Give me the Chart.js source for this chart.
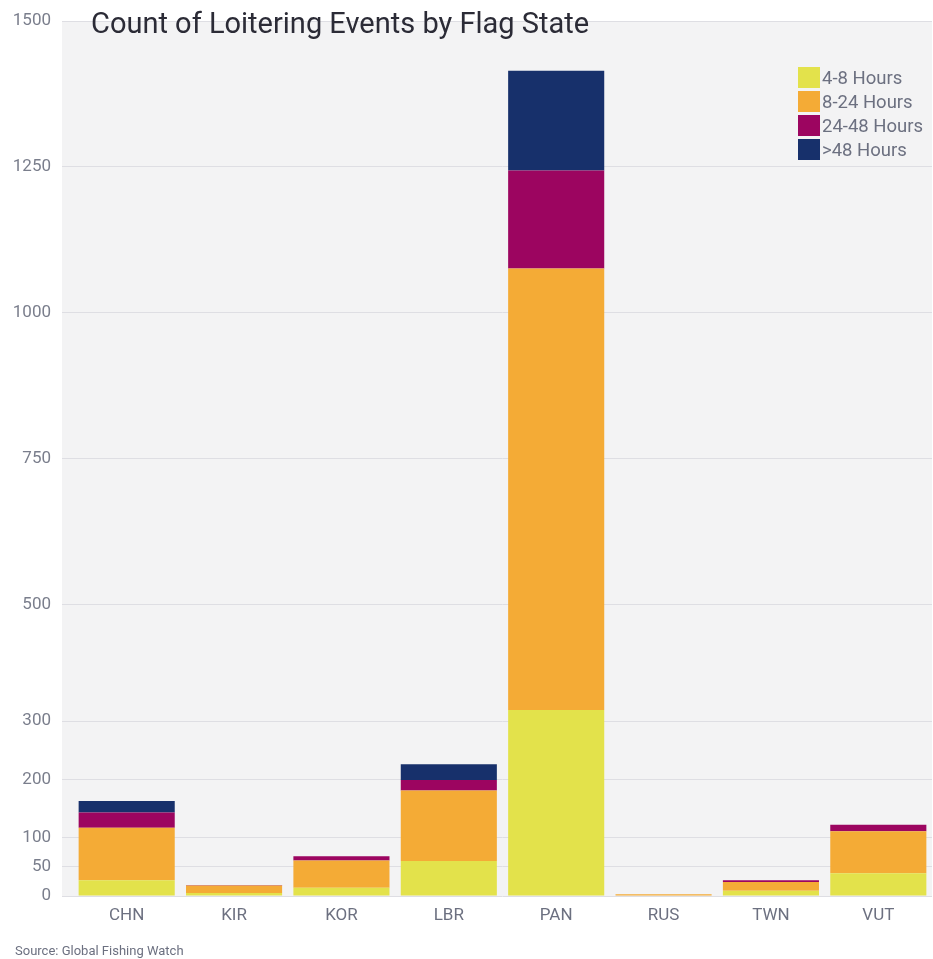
<!DOCTYPE html>
<html>
<head>
<meta charset="utf-8">
<script src="https://cdn.jsdelivr.net/npm/chart.js@4.4.0/dist/chart.umd.min.js"></script>
<style>
  html, body { margin: 0; padding: 0; background: #fff; }
  #wrap { width: 933px; height: 959px; position: relative; }
</style>
</head>
<body>
<div id="wrap"><canvas id="chart"></canvas></div>
<script>
const flagStates = ["CHN", "KIR", "KOR", "LBR", "PAN", "RUS", "TWN", "VUT"];
const hours4to8   = [27, 5, 14, 60, 319, 1, 9, 39];
const hours8to24  = [90, 13, 47, 121, 757, 2, 15, 72];
const hours24to48 = [26, 1, 7, 18, 168, 0, 3, 11];
const hoursOver48 = [20, 0, 0, 27, 171, 0, 0, 0];
const yTicks = [0, 50, 100, 200, 300, 500, 750, 1000, 1250, 1500];

const seriesNames = ["4-8 Hours", "8-24 Hours", "24-48 Hours", ">48 Hours"];
const seriesColors = ["#e3e24b", "#f4ab36", "#9c0560", "#17306b"];
const FONT = "Roboto, 'Noto Sans', sans-serif";

// gray plot background, title and legend drawn on top of the chart area
const decorPlugin = {
  id: "decor",
  beforeDraw(chart) {
    const { ctx, chartArea } = chart;
    ctx.save();
    ctx.fillStyle = "#f3f3f4";
    ctx.fillRect(chartArea.left - 11, chartArea.top, chartArea.right - chartArea.left + 11, chartArea.bottom - chartArea.top);
    ctx.restore();
  },
  afterDraw(chart) {
    const { ctx } = chart;
    ctx.save();
    ctx.fillStyle = "#2b2b36";
    ctx.font = "29px " + FONT;
    ctx.textBaseline = "alphabetic";
    ctx.fillText("Count of Loitering Events by Flag State", 91, 33);

    ctx.font = "18.5px " + FONT;
    ctx.textBaseline = "middle";
    chart.data.datasets.forEach((ds, i) => {
      const y = 67 + i * 24;
      ctx.fillStyle = ds.backgroundColor;
      ctx.fillRect(798, y, 22, 21);
      ctx.fillStyle = "#6c7080";
      ctx.fillText(ds.label, 822, y + 12);
    });

    ctx.font = "13px " + FONT;
    ctx.fillStyle = "#6c7080";
    ctx.fillText("Source: Global Fishing Watch", 15, 952);
    ctx.restore();
  }
};

const values = [hours4to8, hours8to24, hours24to48, hoursOver48];

new Chart(document.getElementById("chart"), {
  type: "bar",
  data: {
    labels: flagStates,
    datasets: seriesNames.map((name, i) => ({
      label: name,
      data: values[i],
      backgroundColor: seriesColors[i],
      borderWidth: 0,
      barPercentage: 0.895,
      categoryPercentage: 1.0
    }))
  },
  options: {
    responsive: true,
    maintainAspectRatio: false,
    animation: false,
    layout: { padding: { top: 20, right: 1, left: 0, bottom: 0 } },
    plugins: {
      legend: { display: false },
      title: { display: false },
      tooltip: { enabled: false }
    },
    scales: {
      x: {
        stacked: true,
        grid: { display: false },
        border: { display: false },
        ticks: { color: "#6c7080", font: { family: FONT, size: 17 }, padding: 2 },
        afterFit(scale) { scale.height = 63; }
      },
      y: {
        stacked: true,
        min: 0,
        max: 1500,
        afterBuildTicks(scale) { scale.ticks = yTicks.map(v => ({ value: v })); },
        grid: { color: "#dedee3", lineWidth: 1, tickLength: 11, drawTicks: true },
        border: { display: false },
        ticks: {
          color: "#7a7e8c",
          font: { family: FONT, size: 17 },
          padding: 11,
          callback: v => String(v)
        },
        afterFit(scale) { scale.width = 73; }
      }
    }
  },
  plugins: [decorPlugin]
});
</script>
</body>
</html>
